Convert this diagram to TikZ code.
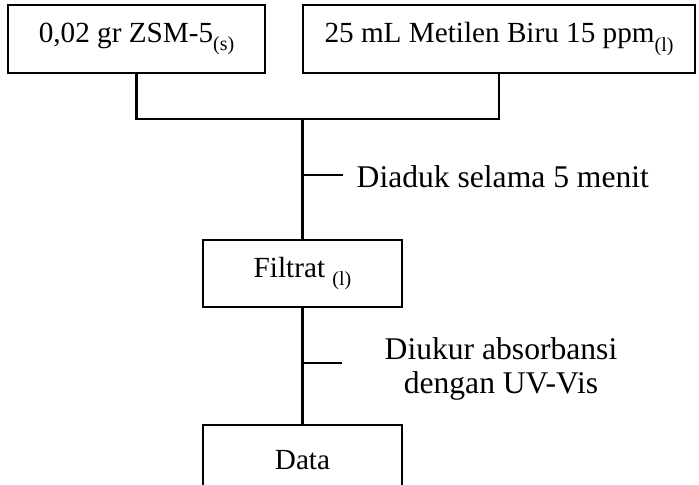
\documentclass[tikz,border=0pt]{standalone}
\usepackage{fontspec}
\setmainfont{Liberation Serif}

\newcommand{\subs}[1]{\raisebox{-0.6ex}{\fontsize{10}{11}\selectfont #1}}

\tikzset{
	box/.style={draw, line width=1.2pt, minimum height=34pt, inner sep=0pt, font=\fontsize{14.6}{16}\selectfont},
	link/.style={line width=1.2pt},
	note/.style={anchor=west, inner sep=0pt, font=\fontsize{15.8}{17}\selectfont}
}

\begin{document}
\begin{tikzpicture}[x=0.5pt,y=-0.5pt]
	\useasboundingbox (0,0) rectangle (699,485);

	\node[box, minimum width=128.5pt] (zsm) at (136.5,39) {0,02 gr ZSM-5\subs{(s)}};
	\node[box, minimum width=196pt] (mb) at (499,39) {25 mL Metilen Biru 15 ppm\subs{(l)}};
	\node[box, minimum width=99.5pt, minimum height=33.5pt] (filtrat) at (302.5,273.5) {Filtrat \subs{(l)}};
	\node[box, minimum width=99.5pt, minimum height=35pt] (data) at (302.5,460) {Data};

	\coordinate (join) at (302.5,119);
	\coordinate (t1) at (302.5,175);
	\coordinate (t2) at (302.5,363);

\draw[link] (zsm.south) |- (join) -| (mb.south);
\draw[link] (join) -- (filtrat.north);
\draw[link] (filtrat.south) -- (data.north);

	\draw[link] (t1) -- ++(40,0) node[note, xshift=6.5pt, yshift=-1pt] (aduk) {Diaduk selama 5 menit};
	\draw[link] (t2) -- ++(39,0) node[note, xshift=21pt, yshift=-3pt, align=center] (ukur) {Diukur absorbansi\\dengan UV-Vis};
\end{tikzpicture}
\end{document}
